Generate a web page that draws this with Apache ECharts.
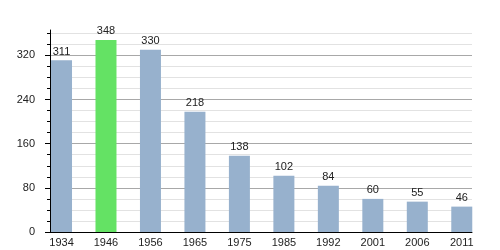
<!DOCTYPE html>
<html>
<head>
<meta charset="utf-8">
<script src="https://cdn.jsdelivr.net/npm/echarts@6/dist/echarts.min.js"></script>
<style>html,body{margin:0;padding:0;background:#fff;}#c{width:500px;height:250px;}</style>
</head>
<body>
<div id="c"></div>
<script>
const years = ['1934','1946','1956','1965','1975','1985','1992','2001','2006','2011'];
const population = [311, 348, 330, 218, 138, 102, 84, 60, 55, 46];
const highlightYear = '1946';
const majorTicks = [0, 80, 160, 240, 320];
const minorTicks = [0,20,40,60,80,100,120,140,160,180,200,220,240,260,280,300,320,340,360];

const chart = echarts.init(document.getElementById('c'), null, {renderer: 'canvas'});
const font = 'Liberation Sans, Arial, sans-serif';
chart.setOption({
  animation: false,
  backgroundColor: '#fff',
  grid: {left: 50, top: 30, right: 28, bottom: 18, containLabel: false},
  xAxis: {
    type: 'value',
    min: -0.259, max: 9.230,
    axisLine: {show: true, onZero: false, lineStyle: {color: '#000', width: 1}},
    axisTick: {show: false},
    splitLine: {show: false},
    axisLabel: {
      customValues: years.map((y, i) => i),
      formatter: v => years[Math.round(v)] || '',
      color: '#222', fontSize: 11, fontFamily: font, margin: 5
    }
  },
  yAxis: [{
    type: 'value', min: 0, max: 366, position: 'left',
    axisLine: {show: true, onZero: false, lineStyle: {color: '#000', width: 1}},
    axisTick: {show: true, customValues: minorTicks, length: 3, lineStyle: {color: '#000'}},
    axisLabel: {show: false},
    splitLine: {show: true, lineStyle: {color: ['#a8a8a8', '#e2e2e2', '#e2e2e2', '#e2e2e2'], width: 1}}
  }, {
    type: 'value', min: 0, max: 366, position: 'left',
    axisLine: {show: false, onZero: false},
    axisTick: {show: true, customValues: majorTicks, length: 5, lineStyle: {color: '#000'}},
    axisLabel: {customValues: majorTicks, color: '#222', fontSize: 11, fontFamily: font, margin: 15},
    splitLine: {show: false}
  }],
  series: [{
    type: 'bar',
    yAxisIndex: 0,
    barWidth: 21,
    data: population.map((v, i) => ({
      value: [i, v],
      itemStyle: {color: years[i] === highlightYear ? '#64e264' : '#97b1cd'}
    })),
    label: {
      show: true, position: 'top', distance: 3,
      formatter: p => p.value[1],
      color: '#222', fontSize: 11, fontFamily: font
    }
  }]
});
</script>
</body>
</html>
